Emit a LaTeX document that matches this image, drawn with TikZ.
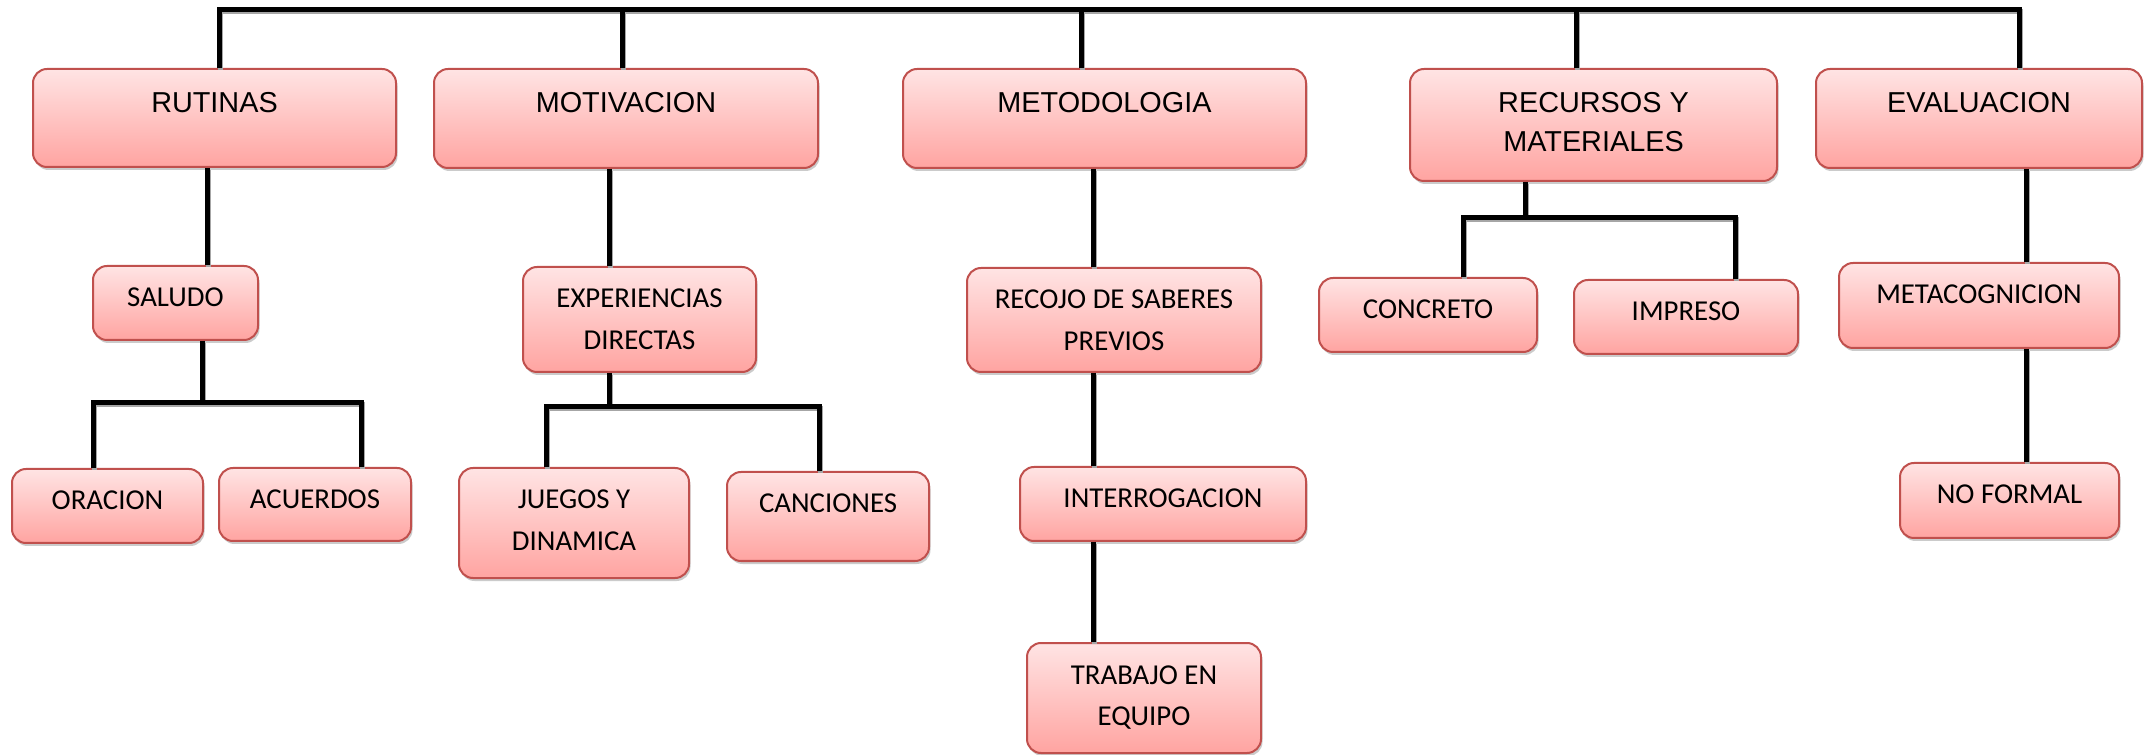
\documentclass[tikz,border=0pt]{standalone}
\usepackage{fontspec}
\newfontfamily\arialfont{Liberation Sans}
\newfontfamily\calibrifont{Carlito}
\usetikzlibrary{shadows}
\newlength{\pxu}\setlength{\pxu}{0.2mm}
\newcommand{\twolines}[2]{\vtop{\halign{\hfil##\hfil\cr #1\cr #2\cr}}}
\definecolor{boxline}{RGB}{192,80,77}
\definecolor{boxtop}{RGB}{255,228,228}
\definecolor{boxbot}{RGB}{255,164,161}
\tikzset{
shapebox/.style={draw=boxline,line width=2\pxu,rounded corners=14\pxu,top color=boxtop,bottom color=boxbot,anchor=north,inner xsep=0pt,inner ysep=0pt,drop shadow={shadow xshift=1.5\pxu,shadow yshift=-3\pxu,fill=black!40}},
topblock/.style={shapebox,font=\arialfont\fontsize{16.4}{22.1}\selectfont,text height=44\pxu},
block/.style={shapebox,font=\calibrifont\fontsize{16.4}{23.8}\selectfont,text height=41\pxu},
link/.style={line width=5\pxu,preaction={draw=black!35,line width=5\pxu,transform canvas={xshift=1.5\pxu,yshift=-2\pxu}}}
}

\begin{document}
\begin{tikzpicture}[x=0.2mm,y=-0.2mm]
\useasboundingbox (0,0) rectangle (2145,755);
\fill[white] (0,0) rectangle (2145,755);

% first row
\node[topblock,minimum width=363\pxu,text depth=54\pxu] (rut) at (214.5,68) {RUTINAS};
\node[topblock,minimum width=384\pxu,text depth=55\pxu] (mot) at (626,68) {MOTIVACION};
\node[topblock,minimum width=403\pxu,text depth=55\pxu] (met) at (1104.5,68) {METODOLOGIA};
\node[topblock,minimum width=367\pxu,text depth=68\pxu] (rec) at (1593.5,68) {\twolines{RECURSOS Y}{MATERIALES}};
\node[topblock,minimum width=326\pxu,text depth=55\pxu] (eva) at (1979,68) {EVALUACION};

% second row
\node[block,minimum width=165\pxu,text depth=33\pxu] (sal) at (175.5,265) {SALUDO};
\node[block,minimum width=233\pxu,text depth=64\pxu] (exp) at (639.5,266) {\twolines{EXPERIENCIAS}{DIRECTAS}};
\node[block,minimum width=294\pxu,text depth=63\pxu] (rsp) at (1114,267) {\twolines{RECOJO DE SABERES}{PREVIOS}};
\node[block,minimum width=218\pxu,text depth=33\pxu] (con) at (1428,277) {CONCRETO};
\node[block,minimum width=224\pxu,text depth=33\pxu] (imp) at (1686,279) {IMPRESO};
\node[block,minimum width=280\pxu,text depth=44\pxu] (mcg) at (1979,262) {METACOGNICION};

% third row
\node[block,minimum width=191\pxu,text depth=33\pxu] (ora) at (107.5,468) {ORACION};
\node[block,minimum width=192\pxu,text depth=32\pxu] (acu) at (315,467) {ACUERDOS};
\node[block,minimum width=230\pxu,text depth=69\pxu] (jue) at (574,467) {\twolines{JUEGOS Y}{DINAMICA}};
\node[block,minimum width=202\pxu,text depth=48\pxu] (can) at (828,471) {CANCIONES};
\node[block,minimum width=286\pxu,text depth=33\pxu] (int) at (1163,466) {INTERROGACION};
\node[block,minimum width=219\pxu,text depth=34\pxu] (nof) at (2009.5,462) {NO FORMAL};
\node[block,minimum width=234\pxu,text depth=69\pxu] (tra) at (1144,642) {\twolines{TRABAJO EN}{EQUIPO}};

% top bar
\coordinate (t1) at (219,10);
\coordinate (t2) at (622,10);
\coordinate (t3) at (1081,10);
\coordinate (t4) at (1576,10);
\coordinate (t5) at (2019,10);
\draw[link] (t1 |- rut.north) -- (t1) -- (t5) -- (t5 |- eva.north);
\draw[link] (t2) -- (t2 |- mot.north);
\draw[link] (t3) -- (t3 |- met.north);
\draw[link] (t4) -- (t4 |- rec.north);

% rutinas
\coordinate (s1) at (207,0);
\coordinate (s2) at (202,403);
\coordinate (s3) at (93,403);
\coordinate (s4) at (361,403);
\draw[link] (s1 |- rut.south) -- (s1 |- sal.north);
\draw[link] (s2 |- sal.south) -- (s2);
\draw[link] (s3 |- ora.north) -- (s3) -- (s4) -- (s4 |- acu.north);

% motivacion
\coordinate (m1) at (609,407);
\coordinate (m2) at (546,407);
\coordinate (m3) at (819,407);
\draw[link] (m1 |- mot.south) -- (m1 |- exp.north);
\draw[link] (m1 |- exp.south) -- (m1);
\draw[link] (m2 |- jue.north) -- (m2) -- (m3) -- (m3 |- can.north);

% metodologia
\coordinate (d1) at (1093,0);
\draw[link] (d1 |- met.south) -- (d1 |- rsp.north);
\draw[link] (d1 |- rsp.south) -- (d1 |- int.north);
\draw[link] (d1 |- int.south) -- (d1 |- tra.north);

% recursos
\coordinate (r1) at (1525,218);
\coordinate (r2) at (1463,218);
\coordinate (r3) at (1735,218);
\draw[link] (r1 |- rec.south) -- (r1);
\draw[link] (r2 |- con.north) -- (r2) -- (r3) -- (r3 |- imp.north);

% evaluacion
\coordinate (e1) at (2026,0);
\draw[link] (e1 |- eva.south) -- (e1 |- mcg.north);
\draw[link] (e1 |- mcg.south) -- (e1 |- nof.north);
\end{tikzpicture}
\end{document}
